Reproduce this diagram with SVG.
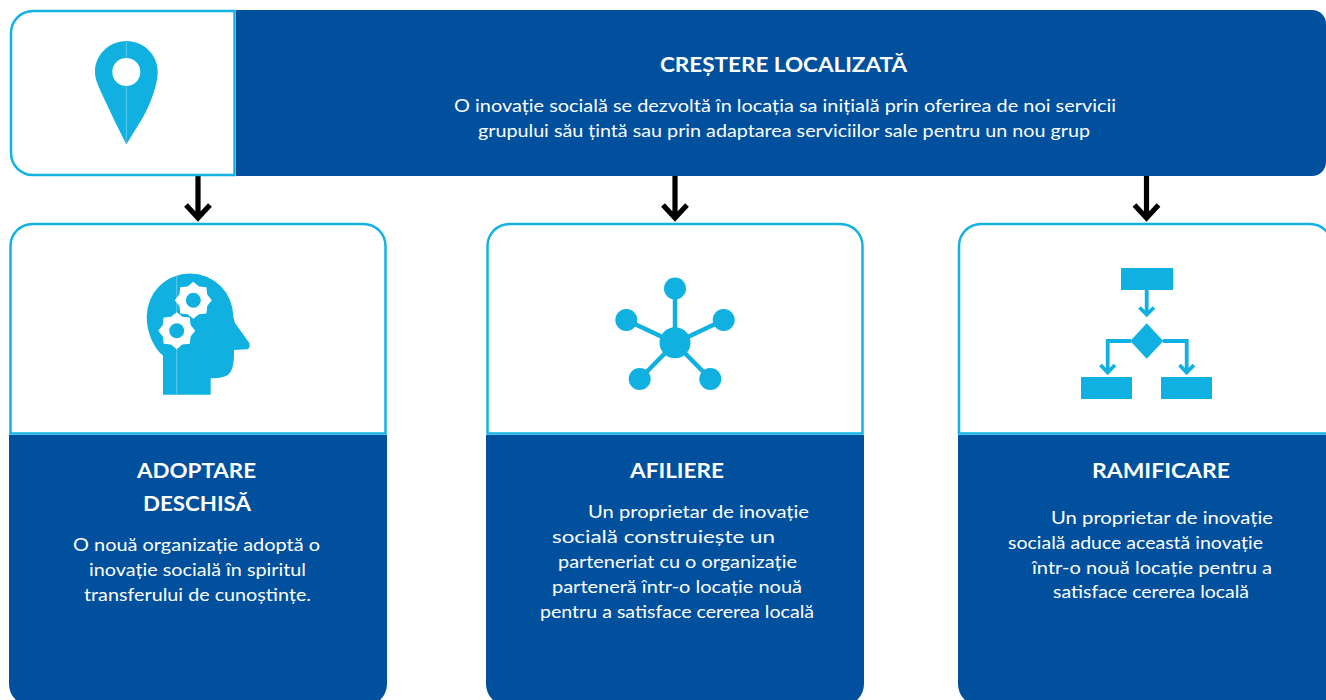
<svg xmlns="http://www.w3.org/2000/svg" width="1326" height="700" viewBox="0 0 1326 700">
<style>
.panel{fill:#00509E}
.frame{fill:#fff;stroke:#12B2E2;stroke-width:2.500}
.ic{fill:#10B1E1}
.icl{fill:none;stroke:#10B1E1;stroke-width:4.500}
.icf{fill:none;stroke:#10B1E1;stroke-width:3.800}
.seam{stroke:#7FD3EE;stroke-width:.7}
.hole{fill:#fff}
.conn{fill:none;stroke:#000;stroke-width:5.200}
text{font-family:Lato,"Open Sans","Liberation Sans",sans-serif;fill:#fff}
.h{font-weight:700;font-size:21.500px}
.b{font-size:17.500px}
</style>
<defs>
<polygon id="gear" points="18.500,0 13.900,5.700 13.100,13.100 5.700,13.900 0,18.500 -5.700,13.900 -13.100,13.100 -13.900,5.700 -18.500,0 -13.900,-5.700 -13.100,-13.100 -5.700,-13.900 0,-18.500 5.700,-13.900 13.100,-13.100 13.900,-5.700"/>
</defs>
<rect width="1326" height="700" fill="#fff"/>

<g id="connectors">
<path class="conn" d="M198 176V218M186 205L198 218L210 205"/>
<path class="conn" d="M675 176V218M663 205L675 218L687 205"/>
<path class="conn" d="M1146.500 176V218M1134.500 205L1146.500 218L1158.500 205"/>
</g>

<g id="top-node">
<path class="frame" d="M234.500 11H33A22 22 0 0 0 11 33V153A22 22 0 0 0 33 175H234.500Z"/>
<path class="panel" d="M236 10H1312A14 14 0 0 1 1326 24V162A14 14 0 0 1 1312 176H236Z"/>
<path class="ic" fill-rule="evenodd" d="M126.300 41C144 41 157.700 55 157.700 72C157.700 85 150 105 143.300 116.700L126.300 144.500L115 121.700L101 92C97 83 95 78 95 72C95 55 109 41 126.300 41ZM126.300 58A14 14 0 1 0 126.300 86A14 14 0 1 0 126.300 58Z"/>
<path class="seam" d="M126.300 41V58M126.300 86V144"/>
<text class="h" x="660" y="72" textLength="247" lengthAdjust="spacingAndGlyphs">CREȘTERE LOCALIZATĂ</text>
<text class="b" x="454" y="112" textLength="662" lengthAdjust="spacingAndGlyphs">O inovație socială se dezvoltă în locația sa inițială prin oferirea de noi servicii</text>
<text class="b" x="478" y="137" textLength="612" lengthAdjust="spacingAndGlyphs">grupului său țintă sau prin adaptarea serviciilor sale pentru un nou grup</text>
</g>

<g id="adoptare-node">
<path class="frame" d="M10.500 433.500V246A22 22 0 0 1 32.500 224H363.500A22 22 0 0 1 385.500 246V433.500Z"/>
<path class="panel" d="M9 435H387V684A22 22 0 0 1 365 706H31A22 22 0 0 1 9 684Z"/>
<path class="ic" d="M163 394.700V355.700C153 347 146.700 332 146.700 316.700A43.300 43.300 0 0 1 233.300 316.700L235 323L249.300 343C250.500 346 249 349.300 246.700 349.300L234 350C234 360 234 372 226 376C220 378.500 216 378 210.700 378.300V394.700Z"/>
<path class="seam" d="M176.700 276V350M176.700 349V394"/>
<use href="#gear" x="193.300" y="300.300" class="hole"/>
<circle class="ic" cx="193.300" cy="300.300" r="7.500"/>
<use href="#gear" x="176.700" y="330.700" class="hole"/>
<circle class="ic" cx="176.700" cy="330.700" r="7.500"/>
<text class="h" x="137" y="478" textLength="119" lengthAdjust="spacingAndGlyphs">ADOPTARE</text>
<text class="h" x="143" y="511" textLength="108" lengthAdjust="spacingAndGlyphs">DESCHISĂ</text>
<text class="b" x="73" y="551" textLength="247" lengthAdjust="spacingAndGlyphs">O nouă organizație adoptă o</text>
<text class="b" x="89" y="576" textLength="217" lengthAdjust="spacingAndGlyphs">inovație socială în spiritul</text>
<text class="b" x="84" y="601" textLength="227" lengthAdjust="spacingAndGlyphs">transferului de cunoștințe.</text>
</g>

<g id="afiliere-node">
<path class="frame" d="M487.500 433.500V246A22 22 0 0 1 509.500 224H840.500A22 22 0 0 1 862.500 246V433.500Z"/>
<path class="panel" d="M486 435H864V684A22 22 0 0 1 842 706H508A22 22 0 0 1 486 684Z"/>
<path class="icl" d="M675 288V343M626.300 320L675 343L723.700 320M639.700 379L675 343L710.300 379"/>
<circle class="ic" cx="675" cy="342.700" r="15.500"/>
<circle class="ic" cx="675" cy="288.500" r="11"/>
<circle class="ic" cx="626.300" cy="320" r="11"/>
<circle class="ic" cx="723.700" cy="320" r="11"/>
<circle class="ic" cx="639.700" cy="379" r="11"/>
<circle class="ic" cx="710.300" cy="379" r="11"/>
<text class="h" x="630" y="478" textLength="94" lengthAdjust="spacingAndGlyphs">AFILIERE</text>
<text class="b" x="588" y="518" textLength="221" lengthAdjust="spacingAndGlyphs">Un proprietar de inovație</text>
<text class="b" x="552" y="543" textLength="223" lengthAdjust="spacingAndGlyphs">socială construiește un</text>
<text class="b" x="558" y="568" textLength="239" lengthAdjust="spacingAndGlyphs">parteneriat cu o organizație</text>
<text class="b" x="552" y="593" textLength="250" lengthAdjust="spacingAndGlyphs">parteneră într-o locație nouă</text>
<text class="b" x="540" y="618" textLength="274" lengthAdjust="spacingAndGlyphs">pentru a satisface cererea locală</text>
</g>

<g id="ramificare-node">
<path class="frame" d="M959 433.500V246A22 22 0 0 1 981 224H1310A22 22 0 0 1 1332 246V433.500Z"/>
<path class="panel" d="M958 435H1336V684A22 22 0 0 1 1314 706H980A22 22 0 0 1 958 684Z"/>
<rect class="ic" x="1121" y="268" width="52" height="22"/>
<polygon class="ic" points="1146.700,323.300 1163.300,341 1146.700,358.700 1130.300,341"/>
<rect class="ic" x="1081" y="377" width="51" height="22"/>
<rect class="ic" x="1161" y="377" width="51" height="22"/>
<path class="icf" d="M1146.700 290V314M1139.500 307.500L1146.700 314.500L1153.900 307.500M1131 341H1107.700V372M1100.500 365L1107.700 372.500L1114.900 365M1163 341H1186.700V372M1179.500 365L1186.700 372.500L1193.900 365"/>
<text class="h" x="1092" y="478" textLength="138" lengthAdjust="spacingAndGlyphs">RAMIFICARE</text>
<text class="b" x="1051" y="524" textLength="222" lengthAdjust="spacingAndGlyphs">Un proprietar de inovație</text>
<text class="b" x="1008" y="549" textLength="255" lengthAdjust="spacingAndGlyphs">socială aduce această inovație</text>
<text class="b" x="1032" y="574" textLength="240" lengthAdjust="spacingAndGlyphs">într-o nouă locație pentru a</text>
<text class="b" x="1053" y="598" textLength="196" lengthAdjust="spacingAndGlyphs">satisface cererea locală</text>
</g>
</svg>
